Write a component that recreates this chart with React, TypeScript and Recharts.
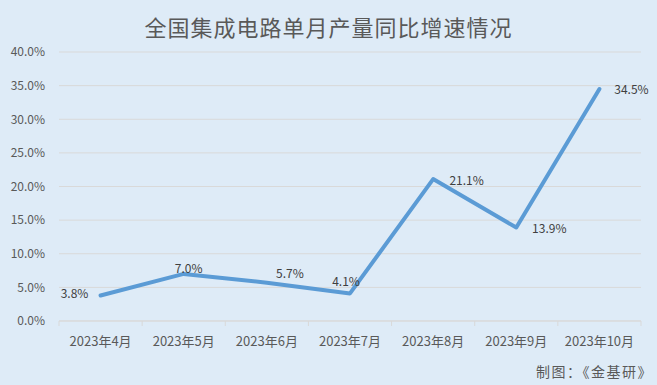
import { LineChart, Line, XAxis, YAxis, CartesianGrid, LabelList } from 'recharts'

const months = ['2023年4月', '2023年5月', '2023年6月', '2023年7月', '2023年8月', '2023年9月', '2023年10月']
const growth = [3.8, 7.0, 5.7, 4.1, 21.1, 13.9, 34.5]
const yTicks = [0, 5, 10, 15, 20, 25, 30, 35, 40]

// label placement relative to each point (text centre)
const labelOffsets = [
  { dx: -26, dy: -3 },
  { dx: 5, dy: -6 },
  { dx: 23, dy: -10 },
  { dx: -4, dy: -12.5 },
  { dx: 33.5, dy: 0.5 },
  { dx: 33, dy: 0 },
  { dx: 32, dy: 0 },
]

const data = months.map((m, i) => ({ month: m, value: growth[i] }))

const FONT = '"Noto Sans CJK SC", "Noto Sans", sans-serif'

function MonthTick(props: any) {
  const { x, y, payload, index, visibleTicksCount } = props
  const band = props.width && visibleTicksCount ? props.width / visibleTicksCount : 83.14
  const half = band / 2
  return (
    <g>
      <line x1={x - half} y1={y} x2={x - half} y2={y + 5} stroke="#D9D9D9" strokeWidth={1} />
      {index === visibleTicksCount - 1 && (
        <line x1={x + half} y1={y} x2={x + half} y2={y + 5} stroke="#D9D9D9" strokeWidth={1} />
      )}
      <text x={x} y={y + 19} textAnchor="middle" dominantBaseline="central" fill="#595959" fontSize={13} fontFamily={FONT}>
        {payload.value}
      </text>
    </g>
  )
}

function PointLabel(props: any) {
  const { x, y, value, index } = props
  const off = labelOffsets[index] || { dx: 0, dy: -10 }
  return (
    <text x={x + off.dx} y={y + off.dy} textAnchor="middle" dominantBaseline="central" fill="#404040" fontSize={12} fontFamily={FONT}>
      {`${Number(value).toFixed(1)}%`}
    </text>
  )
}

export default function App() {
  return (
    <div style={{ position: 'absolute', left: 0, top: 0, width: 657, height: 385, background: '#DEEBF7', fontFamily: FONT }}>
      <div style={{
        position: 'absolute',
        top: 12,
        left: 0,
        width: 657,
        textAlign: 'center',
        fontSize: 22,
        letterSpacing: 1,
        lineHeight: '28px',
        color: '#595959',
      }}>
        全国集成电路单月产量同比增速情况
      </div>
      <LineChart width={657} height={385} data={data} margin={{ top: 52, right: 16, bottom: 34, left: 0 }}>
        <CartesianGrid vertical={false} stroke="#D9D9D9" strokeDasharray="" />
        <XAxis
          dataKey="month"
          scale="band"
          height={30}
          axisLine={{ stroke: '#D9D9D9' }}
          tickLine={false}
          tickSize={0}
          tickMargin={0}
          interval={0}
          tick={<MonthTick />}
        />
        <YAxis
          width={59}
          domain={[0, 40]}
          ticks={yTicks}
          axisLine={false}
          tickLine={false}
          tickSize={0}
          tickMargin={14}
          tickFormatter={(v: number) => `${v.toFixed(1)}%`}
          tick={{ fill: '#595959', fontSize: 12, fontFamily: FONT }}
        />
        <Line
          type="linear"
          dataKey="value"
          stroke="#5B9BD5"
          strokeWidth={4}
          strokeLinecap="round"
          strokeLinejoin="round"
          dot={false}
          isAnimationActive={false}
        >
          <LabelList dataKey="value" content={<PointLabel />} />
        </Line>
      </LineChart>
      <div style={{
        position: 'absolute',
        right: 4,
        top: 362,
        fontSize: 14,
        letterSpacing: 1.5,
        lineHeight: '18px',
        color: '#595959',
      }}>
        制图：《金基研》
      </div>
    </div>
  )
}
